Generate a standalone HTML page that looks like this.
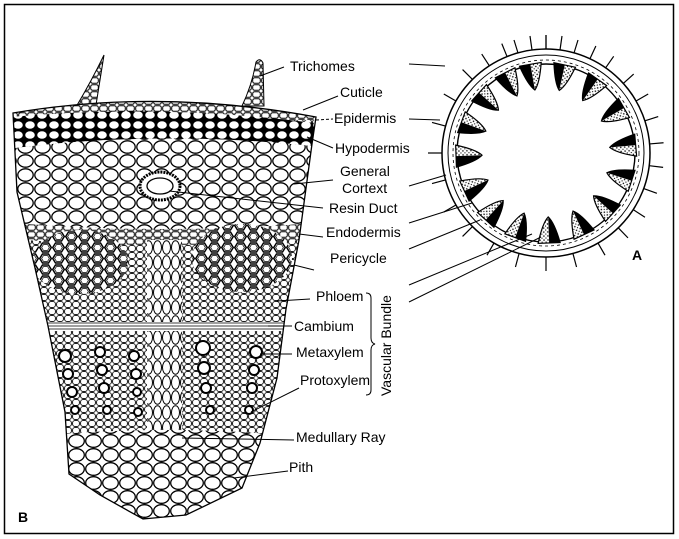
<!DOCTYPE html>
<html><head><meta charset="utf-8"><style>
html,body{margin:0;padding:0;background:#fff;overflow:hidden;}
svg{display:block;}
text{font-family:"Liberation Sans",sans-serif;font-size:14px;fill:#000;}
</style></head><body>
<svg width="679" height="539" viewBox="0 0 679 539" xmlns="http://www.w3.org/2000/svg">
<defs>
<pattern id="small" width="7" height="6" patternUnits="userSpaceOnUse">
<rect width="7" height="6" fill="#fff"/><ellipse cx="3.5" cy="3" rx="3" ry="2.5" fill="#fff" stroke="#000" stroke-width="0.9"/></pattern>
<pattern id="epi" width="9" height="7" patternUnits="userSpaceOnUse">
<rect width="9" height="7" fill="#fff"/><rect x="0.7" y="0.7" width="7.6" height="5.6" rx="2" fill="#fff" stroke="#000" stroke-width="1"/></pattern>
<pattern id="hypo" width="12" height="10" patternUnits="userSpaceOnUse">
<rect width="12" height="10" fill="#000"/><ellipse cx="6" cy="5" rx="4.8" ry="3.8" fill="#fff"/></pattern>
<pattern id="cortex" width="17" height="14" patternUnits="userSpaceOnUse">
<rect width="17" height="14" fill="#fff"/><ellipse cx="8.5" cy="7" rx="7.7" ry="6.2" fill="#fff" stroke="#000" stroke-width="1.3"/></pattern>
<pattern id="pith" width="17" height="14" patternUnits="userSpaceOnUse">
<rect width="17" height="14" fill="#fff"/><ellipse cx="8.5" cy="7" rx="7.8" ry="6.3" fill="#fff" stroke="#000" stroke-width="1.3"/></pattern>
<pattern id="vasc" width="8" height="7" patternUnits="userSpaceOnUse">
<rect width="8" height="7" fill="#fff"/><rect x="0.6" y="0.6" width="6.8" height="5.8" rx="2.3" fill="#fff" stroke="#000" stroke-width="0.9"/></pattern>
<pattern id="scl" width="13" height="11" patternUnits="userSpaceOnUse">
<rect width="13" height="11" fill="#fff"/><polygon points="3.5,1 9.5,1 12.3,5.5 9.5,10 3.5,10 0.7,5.5" fill="#fff" stroke="#000" stroke-width="1.5"/><polygon points="4.5,2.6 8.5,2.6 10.4,5.5 8.5,8.4 4.5,8.4 2.6,5.5" fill="none" stroke="#000" stroke-width="0.7"/></pattern>
<pattern id="ray" width="9" height="15" patternUnits="userSpaceOnUse">
<rect width="9" height="15" fill="#fff"/><ellipse cx="4.5" cy="7.5" rx="4" ry="6.8" fill="#fff" stroke="#000" stroke-width="1"/></pattern>
<pattern id="dots" width="4" height="4" patternUnits="userSpaceOnUse">
<rect width="4" height="4" fill="#fff"/><circle cx="1" cy="1" r="0.8" fill="#000"/><circle cx="3" cy="3" r="0.6" fill="#000"/></pattern>
<clipPath id="wedge"><path d="M13,113 Q160,88 316,117 L312,144 L299,240 L286,309 L277,378 L260,443 L242,488 L186,515 L143,519 L100,495 L69,474 L65,412 L48,326 L35,268 L17,192 Z"/></clipPath>
<g id="bun"><path d="M-11,-90 L11,-90 Q6,-70 0,-64 Q-6,-70 -11,-90 Z" fill="url(#dots)" stroke="#000" stroke-width="1.2"/><path d="M-11,-90 L0,-90 L0,-64 Q-6,-70 -11,-90 Z" fill="#000"/></g>
</defs>
<rect x="4.5" y="4.5" width="669" height="529" fill="none" stroke="#000" stroke-width="1.5"/>

<!-- trichomes -->
<path d="M76,107 Q92,80 104,55 Q100,80 96,105 Z" fill="url(#epi)" stroke="#000"/>
<path d="M242,106 Q252,85 256,62 Q260,57 263,63 L264,106 Z" fill="url(#epi)" stroke="#000"/>

<g clip-path="url(#wedge)">
<rect x="0" y="80" width="330" height="460" fill="url(#vasc)"/>
<rect x="0" y="80" width="330" height="40" fill="url(#epi)"/>
<path d="M0,118 Q160,102 330,125 L330,148 Q160,128 0,150 Z" fill="url(#hypo)"/>
<path d="M0,150 Q160,128 330,148 L330,222 Q160,236 0,222 Z" fill="url(#cortex)"/>
<path d="M0,222 Q160,236 330,222 L330,238 Q160,252 0,238 Z" fill="url(#epi)"/>
<ellipse cx="80" cy="262" rx="48" ry="32" fill="url(#scl)"/>
<ellipse cx="242" cy="258" rx="50" ry="34" fill="url(#scl)"/>
<rect x="147" y="240" width="35" height="195" fill="url(#ray)"/>
<rect x="0" y="322" width="330" height="9" fill="#fff"/>
<line x1="0" y1="323" x2="330" y2="323" stroke="#000" stroke-width="0.8"/>
<line x1="0" y1="326" x2="330" y2="326" stroke="#000" stroke-width="0.8"/>
<line x1="0" y1="329" x2="330" y2="329" stroke="#000" stroke-width="0.8"/>
<path d="M0,440 Q165,420 330,440 L330,540 L0,540 Z" fill="url(#pith)"/>
</g>
<path d="M13,113 Q160,88 316,117 L312,144 L299,240 L286,309 L277,378 L260,443 L242,488 L186,515 L143,519 L100,495 L69,474 L65,412 L48,326 L35,268 L17,192 Z" fill="none" stroke="#000" stroke-width="1.3"/>
<!-- xylem vessels -->
<g fill="#fff" stroke="#000" stroke-width="2">
<circle cx="65" cy="356" r="6"/><circle cx="68" cy="374" r="5"/><circle cx="72" cy="392" r="5"/><circle cx="75" cy="410" r="4"/>
<circle cx="100" cy="352" r="5"/><circle cx="102" cy="370" r="5"/><circle cx="104" cy="388" r="5"/><circle cx="107" cy="410" r="4"/>
<circle cx="134" cy="356" r="5"/><circle cx="136" cy="374" r="5"/><circle cx="137" cy="392" r="4"/><circle cx="138" cy="412" r="4"/>
<circle cx="203" cy="348" r="7"/><circle cx="204" cy="368" r="6"/><circle cx="206" cy="388" r="5"/><circle cx="210" cy="410" r="4"/>
<circle cx="256" cy="352" r="6"/><circle cx="254" cy="370" r="5"/><circle cx="252" cy="388" r="5"/><circle cx="249" cy="410" r="4"/>
</g>
<!-- resin duct -->
<ellipse cx="160" cy="186" rx="20" ry="14" fill="#fff" stroke="#000" stroke-width="3" stroke-dasharray="2 1"/>
<ellipse cx="160" cy="186" rx="13" ry="8" fill="#fff" stroke="#000" stroke-width="1.3"/>

<!-- circle A -->
<g transform="translate(546,153)">
<g stroke="#000" stroke-width="1.2" fill="none">
<path d="M0,-104 l0,-14 M14,-103 l2,-14 M-14,-103 l-2,-14 M28,-100 l4,-13 M-28,-100 l-4,-13"/>
<g id="hairs"><path d="M0,-104 l0,-14"/></g>
</g>
<g stroke="#000" stroke-width="1.2" fill="none">
<use href="#hairs" transform="rotate(25)"/><use href="#hairs" transform="rotate(35)"/><use href="#hairs" transform="rotate(48)"/><use href="#hairs" transform="rotate(60)"/><use href="#hairs" transform="rotate(72)"/><use href="#hairs" transform="rotate(85)"/><use href="#hairs" transform="rotate(97)"/><use href="#hairs" transform="rotate(110)"/><use href="#hairs" transform="rotate(123)"/><use href="#hairs" transform="rotate(136)"/><use href="#hairs" transform="rotate(150)"/><use href="#hairs" transform="rotate(165)"/><use href="#hairs" transform="rotate(180)"/><use href="#hairs" transform="rotate(195)"/><use href="#hairs" transform="rotate(210)"/><use href="#hairs" transform="rotate(225)"/><use href="#hairs" transform="rotate(240)"/><use href="#hairs" transform="rotate(255)"/><use href="#hairs" transform="rotate(270)"/><use href="#hairs" transform="rotate(285)"/><use href="#hairs" transform="rotate(300)"/><use href="#hairs" transform="rotate(315)"/><use href="#hairs" transform="rotate(327)"/><use href="#hairs" transform="rotate(338)"/>
</g>
<circle r="104" fill="#fff" stroke="#000" stroke-width="1.5"/>
<circle r="98" fill="none" stroke="#000" stroke-width="1"/>
<circle r="93" fill="none" stroke="#000" stroke-width="0.8" stroke-dasharray="3 3"/>
<circle r="89" fill="#fff" stroke="#000" stroke-width="1.4"/>
<use href="#bun" transform="rotate(-10)"/><use href="#bun" transform="rotate(12)"/><use href="#bun" transform="rotate(35)"/><use href="#bun" transform="rotate(60)"/><use href="#bun" transform="rotate(85)"/><use href="#bun" transform="rotate(108)"/><use href="#bun" transform="rotate(132)"/><use href="#bun" transform="rotate(155)"/><use href="#bun" transform="rotate(178)"/><use href="#bun" transform="rotate(200)"/><use href="#bun" transform="rotate(222)"/><use href="#bun" transform="rotate(245)"/><use href="#bun" transform="rotate(268)"/><use href="#bun" transform="rotate(290)"/><use href="#bun" transform="rotate(312)"/><use href="#bun" transform="rotate(333)"/>
</g>

<!-- leader lines -->
<g stroke="#000" stroke-width="1" fill="none">
<line x1="260" y1="76" x2="284" y2="67"/>
<line x1="303" y1="110" x2="338" y2="96"/>
<line x1="316" y1="120" x2="333" y2="119" stroke-dasharray="3 2"/>
<line x1="307" y1="137" x2="333" y2="148"/>
<line x1="294" y1="184" x2="333" y2="180"/>
<line x1="169" y1="191" x2="323" y2="208"/>
<line x1="299" y1="234" x2="323" y2="237"/>
<line x1="294" y1="265" x2="314" y2="270"/>
<line x1="277" y1="301" x2="310" y2="299"/>
<line x1="268" y1="326" x2="292" y2="326"/>
<line x1="260" y1="354" x2="292" y2="354"/>
<line x1="251" y1="412" x2="299" y2="388"/>
<line x1="182" y1="438" x2="294" y2="440"/>
<line x1="234" y1="478" x2="288" y2="471"/>
<line x1="409" y1="64" x2="445" y2="66"/>
<line x1="409" y1="119" x2="440" y2="120"/>
<line x1="409" y1="186" x2="446" y2="175"/>
<line x1="409" y1="223" x2="472" y2="203"/>
<line x1="409" y1="249" x2="480" y2="220"/>
<line x1="409" y1="285" x2="532" y2="234"/>
<line x1="409" y1="302" x2="541" y2="237"/>
<path d="M366,293 Q371,293 371,298 L371,338 Q371,343 375,344 Q371,345 371,350 L371,390 Q371,395 366,395"/>
</g>

<text x="290" y="71">Trichomes</text>
<text x="340" y="97">Cuticle</text>
<text x="334" y="123">Epidermis</text>
<text x="335" y="153">Hypodermis</text>
<text x="340" y="176">General</text>
<text x="342" y="193">Cortext</text>
<text x="329" y="213">Resin Duct</text>
<text x="326" y="237">Endodermis</text>
<text x="330" y="263">Pericycle</text>
<text x="316" y="301">Phloem</text>
<text x="294" y="331">Cambium</text>
<text x="296" y="357">Metaxylem</text>
<text x="300" y="385">Protoxylem</text>
<text x="296" y="442">Medullary Ray</text>
<text x="289" y="472">Pith</text>
<text transform="translate(391,396) rotate(-90)" font-size="15">Vascular Bundle</text>
<text x="632" y="260" font-weight="bold">A</text>
<text x="18" y="522" font-weight="bold">B</text>
</svg>
</body></html>
